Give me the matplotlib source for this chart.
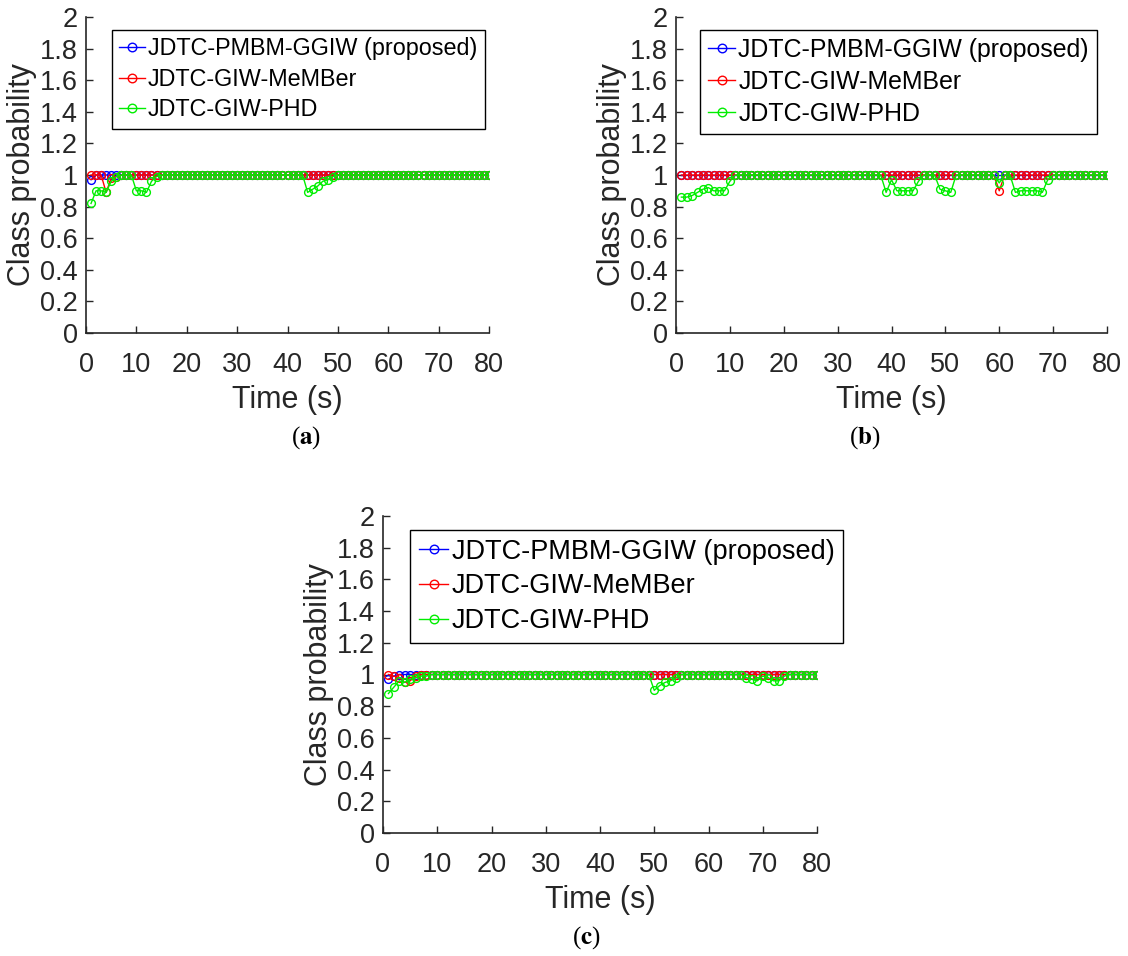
import numpy as np
import matplotlib.pyplot as plt

plt.rcParams['font.family'] = ['Liberation Sans', 'DejaVu Sans']
plt.rcParams['mathtext.fontset'] = 'stix'

# time steps (s)
time_s = list(range(1, 81))

series_names = ["JDTC-PMBM-GGIW (proposed)", "JDTC-GIW-MeMBer", "JDTC-GIW-PHD"]
series_colors = ["#0000ff", "#ff0000", "#00ee00"]

# ---- panel (a) ----
a_pmbm = [0.97, 1.00, 1.00, 1.00, 1.00, 1.00, 1.00, 1.00, 1.00, 1.00,
          1.00, 1.00, 1.00, 1.00, 1.00, 1.00, 1.00, 1.00, 1.00, 1.00,
          1.00, 1.00, 1.00, 1.00, 1.00, 1.00, 1.00, 1.00, 1.00, 1.00,
          1.00, 1.00, 1.00, 1.00, 1.00, 1.00, 1.00, 1.00, 1.00, 1.00,
          1.00, 1.00, 1.00, 1.00, 1.00, 1.00, 1.00, 1.00, 1.00, 1.00,
          1.00, 1.00, 1.00, 1.00, 1.00, 1.00, 1.00, 1.00, 1.00, 1.00,
          1.00, 1.00, 1.00, 1.00, 1.00, 1.00, 1.00, 1.00, 1.00, 1.00,
          1.00, 1.00, 1.00, 1.00, 1.00, 1.00, 1.00, 1.00, 1.00, 1.00]
a_membr = [1.00, 1.00, 1.00, 0.89, 0.98, 0.99, 1.00, 1.00, 1.00, 1.00,
           1.00, 1.00, 1.00, 1.00, 1.00, 1.00, 1.00, 1.00, 1.00, 1.00,
           1.00, 1.00, 1.00, 1.00, 1.00, 1.00, 1.00, 1.00, 1.00, 1.00,
           1.00, 1.00, 1.00, 1.00, 1.00, 1.00, 1.00, 1.00, 1.00, 1.00,
           1.00, 1.00, 1.00, 1.00, 1.00, 1.00, 1.00, 1.00, 1.00, 1.00,
           1.00, 1.00, 1.00, 1.00, 1.00, 1.00, 1.00, 1.00, 1.00, 1.00,
           1.00, 1.00, 1.00, 1.00, 1.00, 1.00, 1.00, 1.00, 1.00, 1.00,
           1.00, 1.00, 1.00, 1.00, 1.00, 1.00, 1.00, 1.00, 1.00, 1.00]
a_phd = [0.82, 0.90, 0.90, 0.89, 0.96, 0.99, 1.00, 1.00, 1.00, 0.90,
         0.90, 0.89, 0.96, 0.99, 1.00, 1.00, 1.00, 1.00, 1.00, 1.00,
         1.00, 1.00, 1.00, 1.00, 1.00, 1.00, 1.00, 1.00, 1.00, 1.00,
         1.00, 1.00, 1.00, 1.00, 1.00, 1.00, 1.00, 1.00, 1.00, 1.00,
         1.00, 1.00, 1.00, 0.89, 0.91, 0.93, 0.96, 0.97, 0.99, 1.00,
         1.00, 1.00, 1.00, 1.00, 1.00, 1.00, 1.00, 1.00, 1.00, 1.00,
         1.00, 1.00, 1.00, 1.00, 1.00, 1.00, 1.00, 1.00, 1.00, 1.00,
         1.00, 1.00, 1.00, 1.00, 1.00, 1.00, 1.00, 1.00, 1.00, 1.00]

# ---- panel (b) ----
b_pmbm = [1.00, 1.00, 1.00, 1.00, 1.00, 1.00, 1.00, 1.00, 1.00, 1.00,
          1.00, 1.00, 1.00, 1.00, 1.00, 1.00, 1.00, 1.00, 1.00, 1.00,
          1.00, 1.00, 1.00, 1.00, 1.00, 1.00, 1.00, 1.00, 1.00, 1.00,
          1.00, 1.00, 1.00, 1.00, 1.00, 1.00, 1.00, 1.00, 1.00, 1.00,
          1.00, 1.00, 1.00, 1.00, 1.00, 1.00, 1.00, 1.00, 1.00, 1.00,
          1.00, 1.00, 1.00, 1.00, 1.00, 1.00, 1.00, 1.00, 1.00, 1.00,
          1.00, 1.00, 1.00, 1.00, 1.00, 1.00, 1.00, 1.00, 1.00, 1.00,
          1.00, 1.00, 1.00, 1.00, 1.00, 1.00, 1.00, 1.00, 1.00, 1.00]
b_membr = [1.00, 1.00, 1.00, 1.00, 1.00, 1.00, 1.00, 1.00, 1.00, 1.00,
           1.00, 1.00, 1.00, 1.00, 1.00, 1.00, 1.00, 1.00, 1.00, 1.00,
           1.00, 1.00, 1.00, 1.00, 1.00, 1.00, 1.00, 1.00, 1.00, 1.00,
           1.00, 1.00, 1.00, 1.00, 1.00, 1.00, 1.00, 1.00, 1.00, 1.00,
           1.00, 1.00, 1.00, 1.00, 1.00, 1.00, 1.00, 1.00, 1.00, 1.00,
           1.00, 1.00, 1.00, 1.00, 1.00, 1.00, 1.00, 1.00, 1.00, 0.90,
           1.00, 1.00, 1.00, 1.00, 1.00, 1.00, 1.00, 1.00, 1.00, 1.00,
           1.00, 1.00, 1.00, 1.00, 1.00, 1.00, 1.00, 1.00, 1.00, 1.00]
b_phd = [0.86, 0.86, 0.87, 0.89, 0.91, 0.92, 0.90, 0.90, 0.90, 0.96,
         1.00, 1.00, 1.00, 1.00, 1.00, 1.00, 1.00, 1.00, 1.00, 1.00,
         1.00, 1.00, 1.00, 1.00, 1.00, 1.00, 1.00, 1.00, 1.00, 1.00,
         1.00, 1.00, 1.00, 1.00, 1.00, 1.00, 1.00, 1.00, 0.89, 0.97,
         0.90, 0.90, 0.90, 0.90, 0.96, 1.00, 1.00, 1.00, 0.91, 0.90,
         0.89, 1.00, 1.00, 1.00, 1.00, 1.00, 1.00, 1.00, 1.00, 0.95,
         1.00, 1.00, 0.89, 0.90, 0.90, 0.90, 0.90, 0.89, 0.97, 1.00,
         1.00, 1.00, 1.00, 1.00, 1.00, 1.00, 1.00, 1.00, 1.00, 1.00]

# ---- panel (c) ----
c_pmbm = [0.97, 0.99, 1.00, 1.00, 1.00, 1.00, 1.00, 1.00, 1.00, 1.00,
          1.00, 1.00, 1.00, 1.00, 1.00, 1.00, 1.00, 1.00, 1.00, 1.00,
          1.00, 1.00, 1.00, 1.00, 1.00, 1.00, 1.00, 1.00, 1.00, 1.00,
          1.00, 1.00, 1.00, 1.00, 1.00, 1.00, 1.00, 1.00, 1.00, 1.00,
          1.00, 1.00, 1.00, 1.00, 1.00, 1.00, 1.00, 1.00, 1.00, 1.00,
          1.00, 1.00, 1.00, 1.00, 1.00, 1.00, 1.00, 1.00, 1.00, 1.00,
          1.00, 1.00, 1.00, 1.00, 1.00, 1.00, 1.00, 1.00, 1.00, 1.00,
          1.00, 1.00, 1.00, 1.00, 1.00, 1.00, 1.00, 1.00, 1.00, 1.00]
c_membr = [1.00, 0.99, 0.98, 0.95, 0.96, 0.99, 1.00, 1.00, 1.00, 1.00,
           1.00, 1.00, 1.00, 1.00, 1.00, 1.00, 1.00, 1.00, 1.00, 1.00,
           1.00, 1.00, 1.00, 1.00, 1.00, 1.00, 1.00, 1.00, 1.00, 1.00,
           1.00, 1.00, 1.00, 1.00, 1.00, 1.00, 1.00, 1.00, 1.00, 1.00,
           1.00, 1.00, 1.00, 1.00, 1.00, 1.00, 1.00, 1.00, 1.00, 1.00,
           1.00, 1.00, 1.00, 1.00, 1.00, 1.00, 1.00, 1.00, 1.00, 1.00,
           1.00, 1.00, 1.00, 1.00, 1.00, 1.00, 1.00, 1.00, 1.00, 1.00,
           1.00, 1.00, 1.00, 1.00, 1.00, 1.00, 1.00, 1.00, 1.00, 1.00]
c_phd = [0.88, 0.92, 0.96, 0.95, 0.97, 0.98, 0.99, 0.99, 1.00, 1.00,
         1.00, 1.00, 1.00, 1.00, 1.00, 1.00, 1.00, 1.00, 1.00, 1.00,
         1.00, 1.00, 1.00, 1.00, 1.00, 1.00, 1.00, 1.00, 1.00, 1.00,
         1.00, 1.00, 1.00, 1.00, 1.00, 1.00, 1.00, 1.00, 1.00, 1.00,
         1.00, 1.00, 1.00, 1.00, 1.00, 1.00, 1.00, 1.00, 1.00, 0.90,
         0.93, 0.95, 0.96, 0.98, 1.00, 1.00, 1.00, 1.00, 1.00, 1.00,
         1.00, 1.00, 1.00, 1.00, 1.00, 1.00, 0.98, 0.97, 0.96, 0.99,
         0.98, 0.96, 0.96, 0.99, 1.00, 1.00, 1.00, 1.00, 1.00, 1.00]

W, H = 1128, 956
fig = plt.figure(figsize=(W / 100, H / 100), dpi=100)

def px_axes(left, right, top, bottom):
    return fig.add_axes([left / W, 1 - bottom / H, (right - left) / W, (bottom - top) / H])

# (axes box in pixels, legend anchor in pixels, legend font size, caption position, caption)
panels = [
    ((86, 489, 17, 333), (112, 30), 16.8, (306, 438), "a", (a_pmbm, a_membr, a_phd)),
    ((676, 1107, 17, 333), (700, 30), 17.9, (865, 438), "b", (b_pmbm, b_membr, b_phd)),
    ((383, 817, 516, 833), (410, 530), 19.5, (586, 938), "c", (c_pmbm, c_membr, c_phd)),
]

dark = (0.15, 0.15, 0.15)
for box, leg_at, leg_fs, cap_at, cap, data in panels:
    ax = px_axes(*box)
    for vals, name, col in zip(data, series_names, series_colors):
        ax.plot(time_s, vals, color=col, marker='o', mfc='none', ms=5.6,
                mew=1.0, lw=1.0, label=name)
    ax.set_xlim(0, 80)
    ax.set_ylim(0, 2)
    ax.set_xticks(np.arange(0, 81, 10))
    ax.set_yticks(np.arange(0, 2.01, 0.2))
    ax.set_yticklabels(["0", "0.2", "0.4", "0.6", "0.8", "1", "1.2", "1.4", "1.6", "1.8", "2"])
    ax.spines['top'].set_visible(False)
    ax.spines['right'].set_visible(False)
    for s in ('left', 'bottom'):
        ax.spines[s].set_color(dark)
        ax.spines[s].set_linewidth(1.2)
    ax.tick_params(direction='in', length=5, width=1, colors=dark, labelsize=19.5)
    ax.tick_params(axis='x', pad=14)
    ax.tick_params(axis='y', pad=6)
    ax.set_xlabel("Time (s)", fontsize=22, color=dark, labelpad=5)
    ax.set_ylabel("Class probability", fontsize=22, color=dark, labelpad=2)
    leg = ax.legend(loc='upper left', bbox_to_anchor=(leg_at[0] / W, 1 - leg_at[1] / H),
                    bbox_transform=fig.transFigure, borderaxespad=0, fontsize=leg_fs,
                    fancybox=False, framealpha=1, edgecolor='black',
                    handlelength=1.1, handletextpad=0.12, borderpad=0.32,
                    labelspacing=0.32, markerscale=1.1)
    leg.get_frame().set_linewidth(1.0)
    fig.text(cap_at[0] / W, 1 - cap_at[1] / H, r"($\mathbf{%s}$)" % cap,
             ha='center', va='center', fontsize=18, family='Liberation Serif')

fig.savefig("out.png", dpi=100)
